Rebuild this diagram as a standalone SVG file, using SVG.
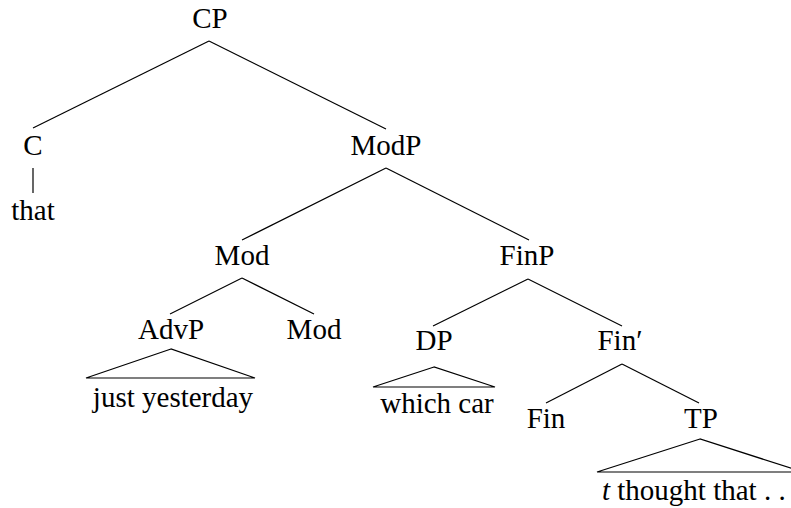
<svg xmlns="http://www.w3.org/2000/svg" width="791" height="508" viewBox="0 0 791 508">
<style>
text{font-family:"Liberation Serif","Times New Roman",serif;font-size:29px;fill:#000;text-anchor:middle}
line,polyline,polygon{stroke:#000;stroke-width:1.2;fill:none}
</style>
<rect width="791" height="508" fill="#fff"/>
<g id="connectors">
<line x1="209" y1="41" x2="33" y2="128"/>
<line x1="209" y1="41" x2="386" y2="129"/>
<line x1="33" y1="168" x2="33" y2="193"/>
<line x1="386" y1="168" x2="242" y2="240"/>
<line x1="386" y1="168" x2="529" y2="240"/>
<line x1="242" y1="278" x2="170" y2="314"/>
<line x1="242" y1="278" x2="314" y2="314"/>
<line x1="528" y1="279" x2="433" y2="326"/>
<line x1="528" y1="279" x2="622" y2="326"/>
<line x1="622" y1="364" x2="546" y2="403"/>
<line x1="622" y1="364" x2="699" y2="403"/>
<polygon points="171,349 86,378 255,378"/>
<polygon points="434,367 373,387 495,387"/>
<polygon points="700,439 597,472 803,472"/>
</g>
<g id="CP"><text x="210" y="28">CP</text></g>
<g id="C"><text x="33" y="155">C</text></g>
<g id="that"><text x="33" y="220">that</text></g>
<g id="ModP"><text x="386" y="155">ModP</text></g>
<g id="Mod1"><text x="242" y="265">Mod</text></g>
<g id="FinP"><text x="527" y="265">FinP</text></g>
<g id="AdvP"><text x="171" y="339">AdvP</text></g>
<g id="Mod2"><text x="314" y="339">Mod</text></g>
<g id="just-yesterday"><text x="173" y="407">just yesterday</text></g>
<g id="DP"><text x="434" y="350">DP</text></g>
<g id="Finbar"><text x="620" y="350">Fin′</text></g>
<g id="which-car"><text x="437" y="413">which car</text></g>
<g id="Fin"><text x="546" y="428">Fin</text></g>
<g id="TP"><text x="701" y="428">TP</text></g>
<g id="t-thought"><text x="602" y="500" style="text-anchor:start"><tspan font-style="italic">t</tspan> thought that . .</text></g>
</svg>
